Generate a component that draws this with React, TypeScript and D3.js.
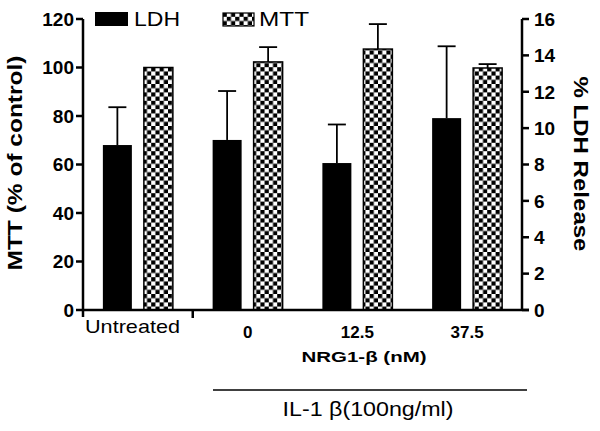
import React from "react";
import * as d3 from "d3";

const groups = ["Untreated", "0", "12.5", "37.5"];
const ldh = [9.07, 9.35, 8.08, 10.55];
const ldhErr = [2.08, 2.69, 2.12, 3.95];
const mtt = [100, 102.3, 107.6, 99.8];
const mttErr = [0, 6.1, 10.3, 1.6];
const leftTicks = [0, 20, 40, 60, 80, 100, 120];
const rightTicks = [0, 2, 4, 6, 8, 10, 12, 14, 16];

const W = 600, H = 431;
const X0 = 83, X1 = 522, Y0 = 310, YT = 19;
const FONT = "'Liberation Sans', Arial, Helvetica, sans-serif";

export default function App() {
  const x = d3.scaleBand<string>().domain(groups).range([X0, X1]);
  const yL = d3.scaleLinear().domain([0, 120]).range([Y0, YT]);
  const yR = d3.scaleLinear().domain([0, 16]).range([Y0, YT]);
  const bw = 29;
  const off = 20.5;
  const cap = 9;

  return (
    <svg width={W} height={H} style={{ position: "absolute", left: 0, top: 0, background: "#fff" }} fontFamily={FONT}>
      <defs>
        <pattern id="checker" width={8.4} height={8.4} patternUnits="userSpaceOnUse">
          <rect width={8.4} height={8.4} fill="#fff" />
          <rect width={4.2} height={4.2} fill="#000" />
          <rect x={4.2} y={4.2} width={4.2} height={4.2} fill="#000" />
        </pattern>
      </defs>
      <rect width={W} height={H} fill="#fff" />

      {/* bars */}
      {groups.map((g, i) => {
        const cx = (x(g) as number) + x.bandwidth() / 2;
        const lx = cx - off;
        const mx = cx + off;
        return (
          <g key={g}>
            {/* LDH error */}
            <line x1={lx} x2={lx} y1={yR(ldh[i])} y2={yR(ldh[i] + ldhErr[i])} stroke="#000" strokeWidth={1.8} />
            <line x1={lx - cap} x2={lx + cap} y1={yR(ldh[i] + ldhErr[i])} y2={yR(ldh[i] + ldhErr[i])} stroke="#000" strokeWidth={1.8} />
            <rect x={lx - bw / 2} y={yR(ldh[i])} width={bw} height={Y0 - yR(ldh[i])} fill="#000" />
            {/* MTT error */}
            {mttErr[i] > 0 && (
              <>
                <line x1={mx} x2={mx} y1={yL(mtt[i])} y2={yL(mtt[i] + mttErr[i])} stroke="#000" strokeWidth={1.8} />
                <line x1={mx - cap} x2={mx + cap} y1={yL(mtt[i] + mttErr[i])} y2={yL(mtt[i] + mttErr[i])} stroke="#000" strokeWidth={1.8} />
              </>
            )}
            <rect x={mx - bw / 2} y={yL(mtt[i])} width={bw} height={Y0 - yL(mtt[i])} fill="url(#checker)" stroke="#000" strokeWidth={1.5} />
          </g>
        );
      })}

      {/* axes */}
      <line x1={X0} x2={X0} y1={YT} y2={Y0 + 7} stroke="#000" strokeWidth={2.5} />
      <line x1={X1} x2={X1} y1={YT} y2={Y0} stroke="#000" strokeWidth={2.5} />
      <line x1={X0} x2={X1 + 7} y1={Y0} y2={Y0} stroke="#000" strokeWidth={2.5} />
      <line x1={(x("0") as number)} x2={(x("0") as number)} y1={Y0} y2={Y0 + 8} stroke="#000" strokeWidth={2.5} />

      {leftTicks.map((t) => (
        <g key={"l" + t}>
          <line x1={X0 - 7} x2={X0} y1={yL(t)} y2={yL(t)} stroke="#000" strokeWidth={2.5} />
          <text x={X0 - 9} y={yL(t)} dy="0.36em" textAnchor="end" fontSize={19} fontWeight="bold">{t}</text>
        </g>
      ))}
      {rightTicks.map((t) => (
        <g key={"r" + t}>
          <line x1={X1} x2={X1 + 7} y1={yR(t)} y2={yR(t)} stroke="#000" strokeWidth={2.5} />
          <text x={X1 + 12} y={yR(t)} dy="0.36em" textAnchor="start" fontSize={19} fontWeight="bold">{t}</text>
        </g>
      ))}

      {/* axis titles */}
      <text transform="translate(22,163) rotate(-90)" textAnchor="middle" fontSize={20} fontWeight="bold" textLength={215} lengthAdjust="spacingAndGlyphs">MTT (% of control)</text>
      <text transform="translate(574,164) rotate(90)" textAnchor="middle" fontSize={20} fontWeight="bold" textLength={175} lengthAdjust="spacingAndGlyphs">% LDH Release</text>

      {/* x labels */}
      <text x={85} y={333} fontSize={19} textLength={95} lengthAdjust="spacingAndGlyphs">{groups[0]}</text>
      {groups.slice(1).map((g) => (
        <text key={"x" + g} x={(x(g) as number) + x.bandwidth() / 2} y={338} textAnchor="middle" fontSize={17} fontWeight="bold">{g}</text>
      ))}
      <text x={364} y={362} textAnchor="middle" fontSize={15} fontWeight="bold" textLength={125} lengthAdjust="spacingAndGlyphs">NRG1-β (nM)</text>
      <line x1={213} x2={527} y1={390} y2={390} stroke="#000" strokeWidth={1.5} />
      <text x={368} y={416} textAnchor="middle" fontSize={20} textLength={171} lengthAdjust="spacingAndGlyphs">IL-1 β(100ng/ml)</text>

      {/* legend */}
      <rect x={95} y={12} width={33} height={14} fill="#000" />
      <text x={134} y={26} fontSize={20} textLength={46} lengthAdjust="spacingAndGlyphs">LDH</text>
      <rect x={223} y={13} width={31} height={13} fill="url(#checker)" stroke="#000" strokeWidth={1.2} />
      <text x={259} y={26} fontSize={20} textLength={50} lengthAdjust="spacingAndGlyphs">MTT</text>
    </svg>
  );
}
